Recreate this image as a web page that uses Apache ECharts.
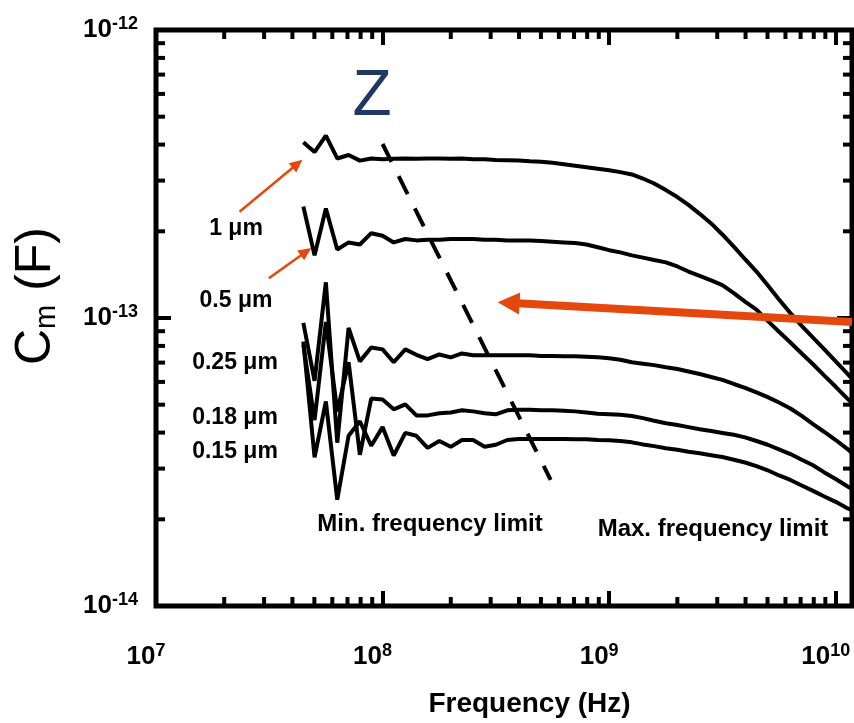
<!DOCTYPE html>
<html>
<head>
<meta charset="utf-8">
<script src="https://cdn.jsdelivr.net/npm/echarts@6/dist/echarts.min.js"></script>
<style>
html,body{margin:0;padding:0;background:#fff;}
#chart{width:854px;height:723px;}
</style>
</head>
<body>
<div id="chart"></div>
<script>
// ---------------- data ----------------
const xMin = 1e7;
const xMax = 1.18e10;
const yMin = 1e-14;
const yMax = 1e-12;

const frequencies = [4.47e7, 5.01e7, 5.62e7, 6.31e7, 7.08e7, 7.94e7, 8.91e7, 1.0e8, 1.12e8, 1.26e8,
  1.41e8, 1.58e8, 1.78e8, 2.0e8, 2.24e8, 2.51e8, 2.82e8, 3.16e8, 3.55e8, 3.98e8,
  4.47e8, 5.01e8, 5.62e8, 6.31e8, 7.08e8, 7.94e8, 8.91e8, 1.0e9, 1.12e9, 1.26e9,
  1.41e9, 1.58e9, 1.78e9, 2.0e9, 2.24e9, 2.51e9, 2.82e9, 3.16e9, 3.55e9, 3.98e9,
  4.47e9, 5.01e9, 5.62e9, 6.31e9, 7.08e9, 7.94e9, 8.91e9, 1.0e10, 1.12e10, 1.26e10];

const cm1um = [4.08e-13, 3.77e-13, 4.30e-13, 3.58e-13, 3.68e-13, 3.52e-13, 3.58e-13, 3.56e-13, 3.57e-13, 3.58e-13,
  3.57e-13, 3.58e-13, 3.58e-13, 3.57e-13, 3.58e-13, 3.56e-13, 3.56e-13, 3.54e-13, 3.53e-13, 3.52e-13,
  3.50e-13, 3.49e-13, 3.46e-13, 3.42e-13, 3.38e-13, 3.34e-13, 3.30e-13, 3.26e-13, 3.21e-13, 3.15e-13,
  3.05e-13, 2.93e-13, 2.78e-13, 2.63e-13, 2.47e-13, 2.30e-13, 2.13e-13, 1.95e-13, 1.77e-13, 1.60e-13,
  1.45e-13, 1.30e-13, 1.16e-13, 1.04e-13, 9.39e-14, 8.55e-14, 7.78e-14, 7.07e-14, 6.44e-14, 5.81e-14];

const cm05um = [2.44e-13, 1.65e-13, 2.40e-13, 1.73e-13, 1.83e-13, 1.80e-13, 1.97e-13, 1.93e-13, 1.83e-13, 1.88e-13,
  1.86e-13, 1.87e-13, 1.87e-13, 1.88e-13, 1.88e-13, 1.88e-13, 1.87e-13, 1.87e-13, 1.86e-13, 1.86e-13,
  1.86e-13, 1.85e-13, 1.84e-13, 1.83e-13, 1.82e-13, 1.80e-13, 1.76e-13, 1.72e-13, 1.69e-13, 1.65e-13,
  1.62e-13, 1.59e-13, 1.56e-13, 1.51e-13, 1.45e-13, 1.40e-13, 1.35e-13, 1.30e-13, 1.22e-13, 1.14e-13,
  1.07e-13, 9.77e-14, 8.96e-14, 8.22e-14, 7.53e-14, 6.91e-14, 6.31e-14, 5.77e-14, 5.27e-14, 4.82e-14];

const cm025um = [9.61e-14, 6.05e-14, 1.33e-13, 3.69e-14, 9.24e-14, 7.07e-14, 7.90e-14, 7.78e-14, 7.02e-14, 7.78e-14,
  7.45e-14, 7.20e-14, 7.47e-14, 7.30e-14, 7.53e-14, 7.42e-14, 7.42e-14, 7.42e-14, 7.42e-14, 7.42e-14,
  7.42e-14, 7.38e-14, 7.38e-14, 7.36e-14, 7.36e-14, 7.33e-14, 7.30e-14, 7.25e-14, 7.16e-14, 7.02e-14,
  6.94e-14, 6.86e-14, 6.75e-14, 6.65e-14, 6.52e-14, 6.39e-14, 6.24e-14, 6.10e-14, 5.90e-14, 5.72e-14,
  5.52e-14, 5.31e-14, 5.09e-14, 4.85e-14, 4.57e-14, 4.28e-14, 4.02e-14, 3.77e-14, 3.52e-14, 3.25e-14];

const cm018um = [8.09e-14, 4.42e-14, 9.69e-14, 4.74e-14, 7.02e-14, 3.35e-14, 5.25e-14, 5.21e-14, 4.82e-14, 5.01e-14,
  4.59e-14, 4.59e-14, 4.67e-14, 4.70e-14, 4.78e-14, 4.74e-14, 4.67e-14, 4.63e-14, 4.78e-14, 4.80e-14,
  4.80e-14, 4.78e-14, 4.78e-14, 4.76e-14, 4.74e-14, 4.70e-14, 4.65e-14, 4.63e-14, 4.61e-14, 4.57e-14,
  4.49e-14, 4.40e-14, 4.31e-14, 4.25e-14, 4.18e-14, 4.11e-14, 4.05e-14, 3.99e-14, 3.93e-14, 3.85e-14,
  3.74e-14, 3.63e-14, 3.50e-14, 3.37e-14, 3.22e-14, 3.08e-14, 2.91e-14, 2.76e-14, 2.61e-14, 2.47e-14];

const cm015um = [8.28e-14, 3.28e-14, 5.13e-14, 2.34e-14, 3.90e-14, 4.38e-14, 3.60e-14, 4.18e-14, 3.33e-14, 3.99e-14,
  3.90e-14, 3.54e-14, 3.74e-14, 3.57e-14, 3.77e-14, 3.77e-14, 3.57e-14, 3.63e-14, 3.77e-14, 3.80e-14,
  3.80e-14, 3.80e-14, 3.80e-14, 3.80e-14, 3.79e-14, 3.79e-14, 3.77e-14, 3.76e-14, 3.74e-14, 3.70e-14,
  3.64e-14, 3.59e-14, 3.53e-14, 3.49e-14, 3.43e-14, 3.39e-14, 3.34e-14, 3.29e-14, 3.22e-14, 3.15e-14,
  3.06e-14, 2.96e-14, 2.84e-14, 2.74e-14, 2.62e-14, 2.51e-14, 2.40e-14, 2.30e-14, 2.19e-14, 2.10e-14];

// dashed "Z" boundary (min. frequency limit line)
const zLine = [[1.0e8, 4.02e-13], [5.52e8, 2.74e-14]];

// big arrow (tail, head) and small label arrows
const bigArrow = [[1.18e10, 9.69e-14], [3.60e8, 1.129e-13]];
const arrow1um = [[2.337e7, 2.337e-13], [4.21e7, 3.43e-13]];
const arrow05um = [[3.148e7, 1.373e-13], [4.59e7, 1.699e-13]];

// minor tick values
const xMinorTicks = [2e7, 3e7, 4e7, 5e7, 6e7, 7e7, 8e7, 9e7,
  2e8, 3e8, 4e8, 5e8, 6e8, 7e8, 8e8, 9e8,
  2e9, 3e9, 4e9, 5e9, 6e9, 7e9, 8e9, 9e9];
const yMinorTicks = [2e-14, 3e-14, 4e-14, 5e-14, 6e-14, 7e-14, 8e-14, 9e-14,
  2e-13, 3e-13, 4e-13, 5e-13, 6e-13, 7e-13, 8e-13, 9e-13];

const seriesNames = ['1 μm', '0.5 μm', '0.25 μm', '0.18 μm', '0.15 μm'];
const seriesValues = [cm1um, cm05um, cm025um, cm018um, cm015um];

// ---------------- chart ----------------
const FONT = '"Liberation Sans", Arial, Helvetica, sans-serif';
const ORANGE = '#e4480c';

function pair(xs, ys) { return xs.map((x, i) => [x, ys[i]]); }

function powLabel(v) {
  const l = Math.log10(v);
  const e = Math.round(l);
  if (Math.abs(l - e) > 1e-6) return '';
  return '{b|10}{s|' + e + '}';
}
const labelRich = {
  b: { fontFamily: FONT, fontSize: 26, fontWeight: 'bold', color: '#000', lineHeight: 30 },
  s: { fontFamily: FONT, fontSize: 18, fontWeight: 'bold', color: '#000', lineHeight: 14, verticalAlign: 'top' }
};

const tickStyle = { color: '#000', width: 4 };

function minorTickItem(params, api) {
  const cs = params.coordSys;
  const kind = api.value(2);
  const p = api.coord([api.value(0), api.value(1)]);
  const L = 9;
  const st = { stroke: '#000', lineWidth: 4 };
  if (kind === 0) {
    const yb = cs.y + cs.height, yt = cs.y;
    return { type: 'group', children: [
      { type: 'line', shape: { x1: p[0], y1: yb, x2: p[0], y2: yb - L }, style: st },
      { type: 'line', shape: { x1: p[0], y1: yt, x2: p[0], y2: yt + L }, style: st }
    ]};
  }
  const xl = cs.x, xr = cs.x + cs.width;
  return { type: 'group', children: [
    { type: 'line', shape: { x1: xl, y1: p[1], x2: xl + L, y2: p[1] }, style: st },
    { type: 'line', shape: { x1: xr, y1: p[1], x2: xr - L, y2: p[1] }, style: st }
  ]};
}

const tickData = xMinorTicks.map(v => [v, yMin, 0]).concat(yMinorTicks.map(v => [xMin, v, 1]));

const curveSeries = seriesValues.map((vals, i) => ({
  name: seriesNames[i],
  type: 'line',
  data: pair(frequencies, vals),
  showSymbol: false,
  symbol: 'none',
  clip: true,
  lineStyle: { color: '#000', width: 4 },
  z: 3
}));

function arrowLine(a, width, size) {
  return [
    { coord: a[0], symbol: 'none', lineStyle: { color: ORANGE, width: width, type: 'solid' } },
    { coord: a[1], symbol: 'triangle', symbolSize: size }
  ];
}

const textStyleBase = { fill: '#000', align: 'center', verticalAlign: 'middle', textAlign: 'center', textVerticalAlign: 'middle' };
function label(text, x, y, font) {
  return { type: 'text', x: x, y: y, z: 10, style: Object.assign({ text: text, font: font }, textStyleBase) };
}

const chart = echarts.init(document.getElementById('chart'), null, { renderer: 'canvas' });
chart.setOption({
  animation: false,
  backgroundColor: '#fff',
  grid: {
    left: 156, right: 2, top: 30, bottom: 107,
    show: true, borderColor: '#000', borderWidth: 5, backgroundColor: 'transparent'
  },
  xAxis: [{
    type: 'log', logBase: 10, min: xMin, max: xMax, position: 'bottom',
    axisLine: { show: false },
    axisTick: { show: true, inside: true, length: 15, lineStyle: tickStyle },
    splitLine: { show: false },
    axisLabel: { margin: 36, padding: [0, 20, 0, 0], formatter: powLabel, rich: labelRich, showMaxLabel: false },
    name: 'Frequency (Hz)', nameLocation: 'middle', nameGap: 84,
    nameTextStyle: { fontFamily: FONT, fontSize: 28, fontWeight: 'bold', color: '#000', padding: [0, 0, 0, 51] }
  }, {
    type: 'log', logBase: 10, min: xMin, max: xMax, position: 'top',
    axisLine: { show: false },
    axisTick: { show: true, inside: true, length: 15, lineStyle: tickStyle },
    splitLine: { show: false },
    axisLabel: { show: false }
  }],
  yAxis: [{
    type: 'log', logBase: 10, min: yMin, max: yMax, position: 'left',
    axisLine: { show: false },
    axisTick: { show: true, inside: true, length: 15, lineStyle: tickStyle },
    splitLine: { show: false },
    axisLabel: { margin: 18, formatter: powLabel, rich: labelRich }
  }, {
    type: 'log', logBase: 10, min: yMin, max: yMax, position: 'right',
    axisLine: { show: false },
    axisTick: { show: true, inside: true, length: 15, lineStyle: tickStyle },
    splitLine: { show: false },
    axisLabel: { show: false }
  }],
  series: curveSeries.concat([
    {
      name: 'Z boundary',
      type: 'line',
      data: zLine,
      showSymbol: false,
      symbol: 'none',
      lineStyle: { color: '#000', width: 4, type: [20, 16] },
      z: 4
    },
    {
      name: 'minor ticks',
      type: 'custom',
      renderItem: minorTickItem,
      dimensions: ['x', 'y', 'k'],
      encode: { x: 0, y: 1 },
      data: tickData,
      silent: true,
      z: 5
    },
    {
      name: 'big arrow',
      type: 'line',
      data: [],
      color: ORANGE,
      z: 6,
      markLine: {
        silent: true, animation: false,
        label: { show: false },
        emphasis: { disabled: true },
        data: [arrowLine(bigArrow, 8, [22, 22])]
      }
    },
    {
      name: 'label arrows',
      type: 'line',
      data: [],
      color: ORANGE,
      z: 6,
      markLine: {
        silent: true, animation: false,
        label: { show: false },
        emphasis: { disabled: true },
        data: [arrowLine(arrow1um, 2.5, [12, 13]), arrowLine(arrow05um, 2.5, [12, 13])]
      }
    }
  ]),
  graphic: [
    { type: 'text', x: 36, y: 296, rotation: Math.PI / 2, z: 10,
      style: { text: '{c|C}{m|m}{c| (F)}', align: 'center', verticalAlign: 'middle', textAlign: 'center', textVerticalAlign: 'middle',
        rich: { c: { font: '50px ' + FONT, fill: '#000', lineHeight: 50 },
                m: { font: '29px ' + FONT, fill: '#000', lineHeight: 27, verticalAlign: 'bottom' } } } },
    { type: 'text', x: 372, y: 97, z: 10,
      style: Object.assign({ text: 'Z', font: '64px ' + FONT }, textStyleBase, { fill: '#1f3864' }) },
    label(seriesNames[0], 236, 229, 'bold 23px ' + FONT),
    label(seriesNames[1], 236, 301, 'bold 23px ' + FONT),
    label(seriesNames[2], 235, 363, 'bold 23px ' + FONT),
    label(seriesNames[3], 235, 418, 'bold 23px ' + FONT),
    label(seriesNames[4], 235, 452, 'bold 23px ' + FONT),
    label('Min. frequency limit', 430, 524, 'bold 24px ' + FONT),
    label('Max. frequency limit', 713, 529, 'bold 24px ' + FONT)
  ]
});
</script>
</body>
</html>
